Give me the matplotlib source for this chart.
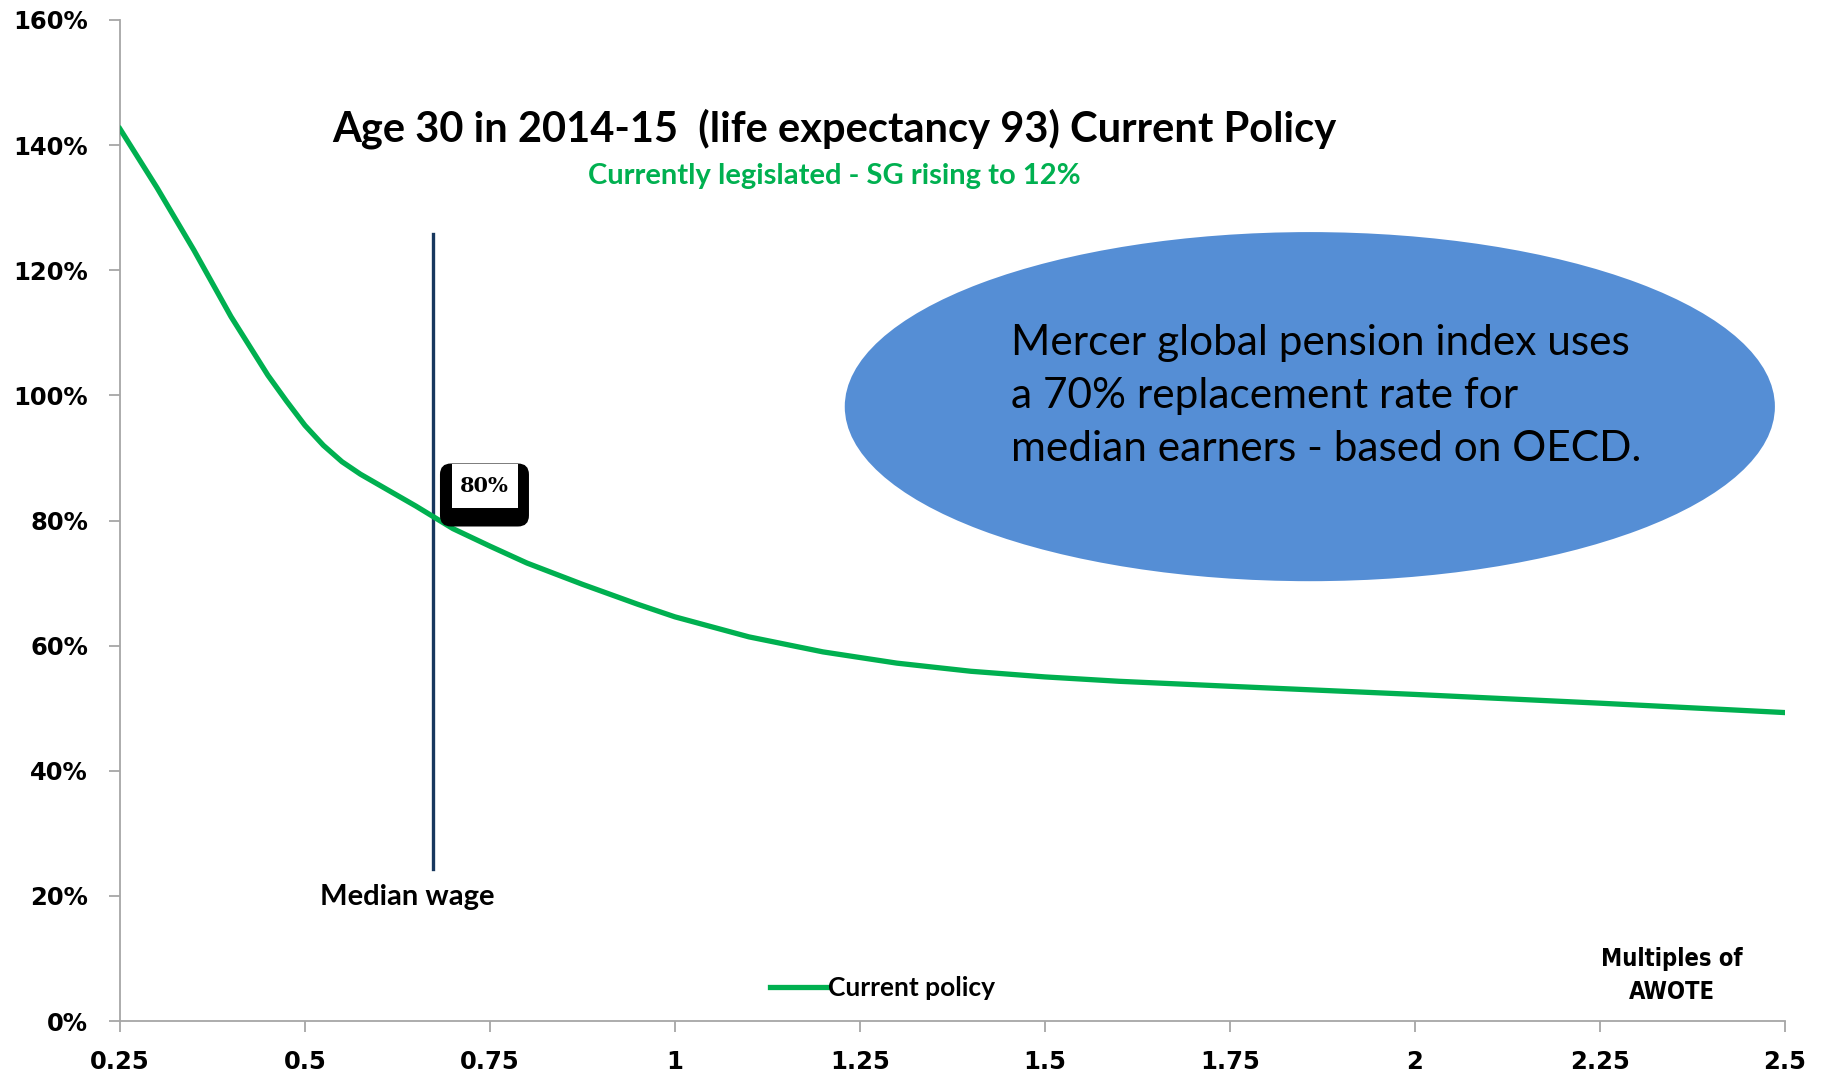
import matplotlib
matplotlib.use('Agg')
import matplotlib.pyplot as plt
from matplotlib.patches import Ellipse, FancyBboxPatch, Rectangle
from matplotlib.lines import Line2D
from matplotlib.transforms import IdentityTransform

# multiples of AWOTE vs replacement rate (%)
awote = [0.25, 0.30, 0.35, 0.40, 0.45, 0.475, 0.50, 0.525, 0.55, 0.575,
         0.60, 0.625, 0.65, 0.70, 0.75, 0.80, 0.875, 0.95, 1.00, 1.10,
         1.20, 1.30, 1.40, 1.50, 1.60, 1.75, 2.00, 2.25, 2.50]
current_policy = [142.6, 133.2, 123.2, 112.6, 103.2, 99.1, 95.2, 92.0, 89.4,
                  87.4, 85.7, 84.0, 82.3, 78.7, 75.9, 73.2, 69.8, 66.6, 64.6,
                  61.4, 59.0, 57.2, 55.9, 55.0, 54.3, 53.5, 52.2, 50.8, 49.3]

median_wage = 0.673
median_rate = 80
median_span = [24.3, 125.8]

x_ticks = [0.25, 0.5, 0.75, 1, 1.25, 1.5, 1.75, 2, 2.25, 2.5]
x_labels = ['0.25', '0.5', '0.75', '1', '1.25', '1.5', '1.75', '2', '2.25', '2.5']
y_ticks = [0, 20, 40, 60, 80, 100, 120, 140, 160]

title = 'Age 30 in 2014-15  (life expectancy 93) Current Policy'
subtitle = 'Currently legislated - SG rising to 12%'
note = ('Mercer global pension index uses\n'
        'a 70% replacement rate for\n'
        'median earners - based on OECD.')

green = '#00B050'
navy = '#17375E'
grey = '#A6A6A6'

fig = plt.figure(figsize=(18.23, 10.81), dpi=100)
ax = fig.add_axes([0.0658, 0.0555, 0.9133, 0.926])

ax.plot(awote, current_policy, color=green, lw=3.8, solid_joinstyle='round',
        zorder=3)
ax.plot([median_wage, median_wage], median_span, color=navy, lw=2.4, zorder=2)

ax.set_xlim(0.25, 2.5)
ax.set_ylim(0, 160)
ax.set_xticks(x_ticks)
ax.set_xticklabels(x_labels)
ax.set_yticks(y_ticks)
ax.set_yticklabels(['{}%'.format(v) for v in y_ticks])
for s in ['top', 'right']:
    ax.spines[s].set_visible(False)
for s in ['left', 'bottom']:
    ax.spines[s].set_color(grey)
    ax.spines[s].set_linewidth(1.3)
ax.tick_params(axis='both', direction='out', length=8, width=1.3, color=grey,
               labelsize=17.5)
ax.tick_params(axis='y', pad=15)
ax.tick_params(axis='x', pad=13)
for lab in ax.get_xticklabels() + ax.get_yticklabels():
    lab.set_fontweight('bold')
    lab.set_family('DejaVu Sans')

# titles
ax.text(1.216, 142.6, title, ha='center', va='center', fontsize=30,
        fontweight='bold', family='Lato')
ax.text(1.215, 135.1, subtitle, ha='center', va='center', fontsize=21,
        fontweight='bold', family='Lato', color=green)

# ellipse note
ax.add_patch(Ellipse((1.858, 98.2), 1.257, 55.8, facecolor='#558ED5',
                     edgecolor='none', zorder=1))
ax.text(1.454, 99.9, note, ha='left', va='center', fontsize=30.5,
        family='Lato', linespacing=1.47, zorder=4)

# 80% callout label, laid out in pixels from the median point
px, py = ax.transData.transform((median_wage, median_rate))
ax.add_patch(FancyBboxPatch((px + 7, py - 6), 89, 63,
                            boxstyle='round,pad=0,rounding_size=11',
                            transform=IdentityTransform(),
                            facecolor='black', edgecolor='none', zorder=5))
ax.add_patch(Rectangle((px + 19, py + 12.5), 66, 44.5,
                       transform=IdentityTransform(),
                       facecolor='white', edgecolor='none', zorder=6))
ax.text(px + 51, py + 35, '{}%'.format(median_rate), ha='center', va='center',
        transform=IdentityTransform(), fontsize=15, fontweight='bold',
        family='DejaVu Serif', zorder=7)

ax.text(0.638, 19.9, 'Median wage', ha='center', va='center', fontsize=21,
        fontweight='bold', family='Lato')

# legend
ax.legend([Line2D([], [], color=green, lw=3.8)], ['Current policy'],
          loc='center', bbox_to_anchor=(0.458, 0.0325), frameon=False,
          handlelength=2.2, handletextpad=0.0,
          prop={'family': 'Lato', 'weight': 'bold', 'size': 19})

ax.text(2.347, 7.3, 'Multiples of\nAWOTE', ha='center', va='center',
        fontsize=17, fontweight='bold', family='DejaVu Sans',
        fontstretch='condensed', linespacing=1.45)

fig.savefig('out.png', dpi=100)
